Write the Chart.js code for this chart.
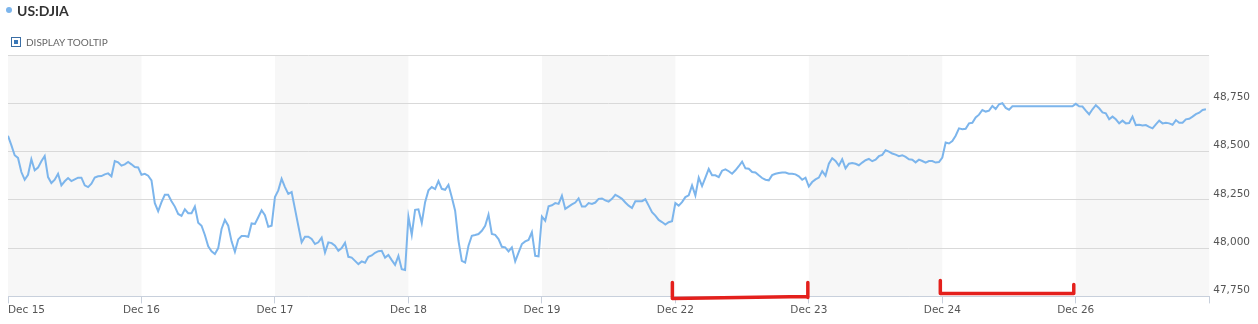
<!DOCTYPE html>
<html>
<head>
<meta charset="utf-8">
<title>US:DJIA</title>
<script src="https://cdn.jsdelivr.net/npm/chart.js@4/dist/chart.umd.min.js"></script>
<style>
    html, body { margin: 0; padding: 0; background: #fff; }
    #wrap { position: relative; width: 1258px; height: 324px; overflow: hidden; }
    #chart { position: absolute; left: 0; top: 0; }
    .title { position: absolute; left: 6px; top: 2px; font: bold 14px Lato, sans-serif; color: #333; }
    .title .dot { display: inline-block; width: 6px; height: 6px; border-radius: 50%; background: #7cb5ec; margin-right: 5px; vertical-align: 3px; }
    .tooltip-toggle { position: absolute; left: 11px; top: 36px; font: 10px Lato, sans-serif; color: #666; }
    .tooltip-toggle .box { display: inline-block; width: 8px; height: 8px; border: 1px solid #3a6ea5; vertical-align: -1px; margin-right: 5px; position: relative; }
    .tooltip-toggle .box:after { content: ""; position: absolute; left: 2px; top: 2px; width: 4px; height: 4px; background: #3a78b8; }
</style>
</head>
<body>
<div id="wrap">
    <canvas id="chart" width="1258" height="324"></canvas>
    <div class="title"><span class="dot"></span>US:DJIA</div>
    <div class="tooltip-toggle"><span class="box"></span>DISPLAY TOOLTIP</div>
</div>
<script>
// trading days on the x axis
const dayLabels = ["Dec 15", "Dec 16", "Dec 17", "Dec 18", "Dec 19", "Dec 22", "Dec 23", "Dec 24", "Dec 26"];

// 10 minute values for each day
const dec15 = [48582, 48533, 48481, 48467, 48394, 48354, 48380, 48460, 48403, 48417,
    48450, 48477, 48368, 48337, 48354, 48385, 48325, 48346, 48363, 48347,
    48356, 48365, 48365, 48325, 48316, 48334, 48365, 48372, 48373, 48382,
    48387, 48372, 48451, 48444, 48427, 48434, 48446, 48434, 48420, 48418];
const dec16 = [48380, 48385, 48375, 48351, 48233, 48191, 48238, 48276, 48276, 48243,
    48215, 48177, 48167, 48201, 48181, 48181, 48215, 48132, 48116, 48068,
    48009, 47984, 47970, 48000, 48099, 48146, 48116, 48035, 47981, 48045,
    48063, 48063, 48059, 48128, 48125, 48160, 48196, 48170, 48111, 48116];
const dec17 = [48264, 48299, 48359, 48316, 48281, 48290, 48203, 48116, 48030, 48059,
    48059, 48047, 48021, 48030, 48054, 47977, 48030, 48026, 48012, 47986,
    48000, 48028, 47955, 47951, 47934, 47917, 47931, 47924, 47955, 47962,
    47976, 47984, 47986, 47951, 47965, 47938, 47913, 47960, 47891, 47887];
const dec18 = [48163, 48069, 48198, 48201, 48130, 48238, 48299, 48316, 48306, 48347,
    48307, 48302, 48328, 48264, 48194, 48038, 47934, 47925, 48012, 48064,
    48068, 48073, 48090, 48116, 48174, 48073, 48069, 48047, 48007, 48004,
    47983, 48004, 47931, 47977, 48021, 48035, 48042, 48082, 47960, 47957];
const dec19 = [48163, 48142, 48217, 48222, 48233, 48229, 48271, 48203, 48215, 48226,
    48236, 48257, 48215, 48215, 48233, 48229, 48236, 48255, 48257, 48247,
    48241, 48255, 48276, 48267, 48255, 48236, 48220, 48208, 48243, 48243,
    48243, 48253, 48220, 48186, 48168, 48146, 48135, 48122, 48134, 48139];
const dec22 = [48233, 48220, 48238, 48264, 48273, 48325, 48273, 48365, 48321, 48365,
    48410, 48377, 48377, 48368, 48401, 48408, 48398, 48385, 48403, 48424,
    48448, 48413, 48411, 48394, 48392, 48377, 48363, 48354, 48351, 48378,
    48385, 48389, 48392, 48391, 48385, 48385, 48382, 48372, 48354, 48365];
const dec23 = [48319, 48342, 48356, 48365, 48399, 48375, 48437, 48465, 48451, 48427,
    48460, 48413, 48437, 48441, 48437, 48429, 48443, 48455, 48462, 48450,
    48458, 48476, 48483, 48507, 48500, 48490, 48484, 48476, 48481, 48472,
    48460, 48458, 48444, 48458, 48451, 48443, 48451, 48451, 48443, 48446];
const dec24 = [48469, 48547, 48542, 48554, 48582, 48620, 48616, 48618, 48646, 48649,
    48677, 48691, 48715, 48707, 48712, 48736, 48720, 48745, 48750, 48726,
    48717, 48734, 48734, 48734, 48734, 48734, 48734, 48734, 48734, 48734,
    48734, 48734, 48734, 48734, 48734, 48734, 48734, 48734, 48734, 48734];
const dec26 = [48747, 48734, 48733, 48712, 48693, 48719, 48740, 48724, 48703, 48698,
    48667, 48681, 48667, 48646, 48660, 48646, 48648, 48681, 48637, 48639,
    48635, 48637, 48628, 48620, 48641, 48660, 48646, 48649, 48646, 48639,
    48663, 48649, 48649, 48667, 48670, 48681, 48694, 48701, 48715, 48719];

const yTicks = [47750, 48000, 48250, 48500, 48750, 49000];

document.addEventListener("DOMContentLoaded", () => {
    const days = [dec15, dec16, dec17, dec18, dec19, dec22, dec23, dec24, dec26];

    // x = day index + fraction of the session
    const points = [];
    days.forEach((vals, d) => {
        vals.forEach((v, i) => points.push({ x: d + i / vals.length, y: v }));
    });

    // grey band behind every other day
    const dayBands = {
        id: "dayBands",
        beforeDraw(chart) {
            const { ctx, chartArea, scales } = chart;
            ctx.save();
            ctx.fillStyle = "#f7f7f7";
            for (let d = 0; d < dayLabels.length; d += 2) {
                const x1 = scales.x.getPixelForValue(d);
                const x2 = scales.x.getPixelForValue(d + 1);
                ctx.fillRect(x1, chartArea.top, x2 - x1, chartArea.bottom - chartArea.top);
            }
            ctx.restore();
        }
    };

    // red hand drawn brackets under the axis
    const brackets = {
        id: "brackets",
        afterDraw(chart) {
            const { ctx, chartArea, scales } = chart;
            const b = chartArea.bottom;
            const px = v => scales.x.getPixelForValue(v);
            ctx.save();
            ctx.strokeStyle = "#e4201c";
            ctx.lineWidth = 3.5;
            ctx.lineCap = "round";
            ctx.lineJoin = "round";
            ctx.beginPath();
            ctx.moveTo(px(5) - 3, b - 14);
            ctx.lineTo(px(5) - 3, b + 2);
            ctx.lineTo(px(6) - 2, b);
            ctx.moveTo(px(6) - 1, b - 14);
            ctx.lineTo(px(6) - 1, b + 1);
            ctx.moveTo(px(7) - 2, b - 16);
            ctx.lineTo(px(7) - 2, b - 3);
            ctx.lineTo(px(8) - 2, b - 3);
            ctx.lineTo(px(8) - 2, b - 12);
            ctx.stroke();
            ctx.restore();
        }
    };

    const ctx = document.getElementById("chart").getContext("2d");
    new Chart(ctx, {
        type: "line",
        data: {
            datasets: [{
                label: "US:DJIA",
                data: points,
                borderColor: "#7cb5ec",
                borderWidth: 2,
                pointRadius: 0,
                tension: 0
            }]
        },
        options: {
            responsive: false,
            animation: false,
            layout: { padding: { left: 8, right: 4, top: 55, bottom: 6 } },
            plugins: {
                legend: { display: false },
                tooltip: { enabled: false }
            },
            scales: {
                x: {
                    type: "linear",
                    min: 0,
                    max: dayLabels.length,
                    afterBuildTicks: axis => {
                        axis.ticks = dayLabels.map((l, i) => ({ value: i })).concat([{ value: dayLabels.length }]);
                    },
                    ticks: {
                        autoSkip: false,
                        maxRotation: 0,
                        align: "inner",
                        padding: 1,
                        color: "#555",
                        font: { family: "DejaVu Sans", size: 10.5 },
                        callback: v => dayLabels[v] || ""
                    },
                    grid: {
                        drawOnChartArea: false,
                        drawTicks: true,
                        tickLength: 7,
                        tickColor: "#c8d0dc"
                    },
                    border: { color: "#c8d0dc" }
                },
                y: {
                    position: "right",
                    min: yTicks[0],
                    max: yTicks[yTicks.length - 1],
                    afterBuildTicks: axis => {
                        axis.ticks = yTicks.map(v => ({ value: v }));
                    },
                    ticks: {
                        padding: 4,
                        labelOffset: -6,
                        color: "#555",
                        font: { family: "DejaVu Sans", size: 10.5 },
                        callback: v => v === 49000 ? "" : v.toLocaleString("en-US")
                    },
                    grid: { color: "#d9d9d9", drawTicks: false },
                    border: { display: false }
                }
            }
        },
        plugins: [dayBands, brackets]
    });
});
</script>
</body>
</html>
